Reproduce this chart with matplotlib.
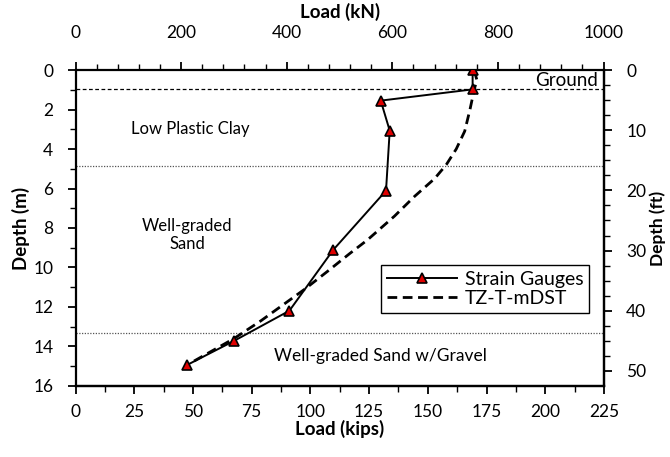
import matplotlib
matplotlib.use("Agg")
import matplotlib.pyplot as plt
from matplotlib.ticker import MultipleLocator, FixedLocator

plt.rcParams['font.family'] = ['Lato', 'DejaVu Sans']

# Strain gauge data (load kN, depth m)
sg_load_kN = [752, 752, 578, 595, 588, 488, 405, 300, 211]
sg_depth_m = [0.0, 0.98, 1.55, 3.07, 6.11, 9.11, 12.19, 13.72, 14.94]

# TZ-T-mDST prediction (load kN, depth m)
tz_load_kN = [755, 760, 755, 747, 737, 721, 702, 680, 642, 604, 553, 519, 477, 434, 351, 300, 211]
tz_depth_m = [0.0, 0.5, 1.0, 2.0, 3.1, 4.0, 4.8, 5.5, 6.4, 7.4, 8.6, 9.3, 10.2, 11.1, 12.7, 13.6, 14.94]

ground_depth = 0.95
layer_bounds = [4.85, 13.3]
layer_labels = ["Low Plastic Clay", "Well-graded\nSand", "Well-graded Sand w/Gravel"]

kips_ticks = [0, 25, 50, 75, 100, 125, 150, 175, 200, 225]
ft_ticks = [0, 10, 20, 30, 40, 50]

KN_PER_KIP = 4.448

fig = plt.figure(figsize=(6.7, 4.57), dpi=100)
ax = fig.add_axes([0.1127, 0.1554, 0.7888, 0.6914])

ax.plot(tz_load_kN, tz_depth_m, color='black', lw=2, linestyle=(0, (3.5, 2)),
        label='TZ-T-mDST', zorder=3)
ax.plot(sg_load_kN, sg_depth_m, color='black', lw=1.4, marker='^', markersize=7,
        markerfacecolor='#e00000', markeredgecolor='black', markeredgewidth=1.2,
        label='Strain Gauges', zorder=4)

ax.axhline(ground_depth, color='black', lw=0.9, linestyle=(0, (3, 2)), zorder=2)
for b in layer_bounds:
    ax.axhline(b, color='#555555', lw=0.9, linestyle=(0, (1, 1.2)), zorder=2)

ax.text(990, 0.55, "Ground", ha='right', va='center', fontsize=13.5)
ax.text(218, 3.0, layer_labels[0], ha='center', va='center', fontsize=12)
ax.text(212, 8.35, layer_labels[1], ha='center', va='center', fontsize=12,
        linespacing=1.2)
ax.text(578, 14.5, layer_labels[2], ha='center', va='center', fontsize=12.5)

ax.set_xlim(0, 225 * KN_PER_KIP)
ax.set_ylim(16, 0)

# top: kN
ax.xaxis.tick_top()
ax.xaxis.set_label_position('top')
ax.xaxis.set_major_locator(FixedLocator([0, 200, 400, 600, 800, 1000]))
ax.xaxis.set_minor_locator(MultipleLocator(40))
ax.set_xlabel("Load (kN)", fontsize=13.5, fontweight='bold', labelpad=5)
ax.yaxis.set_major_locator(MultipleLocator(2))
ax.yaxis.set_minor_locator(MultipleLocator(1))
ax.set_ylabel("Depth (m)", fontsize=13.5, fontweight='bold', labelpad=2)

for s in ax.spines.values():
    s.set_linewidth(1.6)

ax.tick_params(which='major', direction='out', length=6, width=1.3,
               labelsize=12.5, pad=10)
ax.tick_params(which='minor', direction='out', length=4, width=1.0)
ax.tick_params(axis='x', which='major', pad=15)

# bottom: kips
secx = ax.secondary_xaxis('bottom', functions=(lambda x: x / KN_PER_KIP,
                                                lambda x: x * KN_PER_KIP))
secx.xaxis.set_major_locator(FixedLocator(kips_ticks))
secx.xaxis.set_minor_locator(MultipleLocator(12.5))
secx.tick_params(which='major', direction='out', length=6, width=1.3,
                 labelsize=12.5, pad=7)
secx.tick_params(which='minor', direction='out', length=4, width=1.0)
secx.set_xlabel("Load (kips)", fontsize=13.5, fontweight='bold', labelpad=0)
secx.spines['bottom'].set_linewidth(1.6)

# right: ft
secy = ax.secondary_yaxis('right', functions=(lambda y: y / 0.3048,
                                               lambda y: y * 0.3048))
secy.yaxis.set_major_locator(FixedLocator(ft_ticks))
secy.yaxis.set_minor_locator(MultipleLocator(2.5))
secy.tick_params(which='major', direction='out', length=6, width=1.3,
                 labelsize=12.5, pad=10)
secy.tick_params(which='minor', direction='out', length=4, width=1.0)
secy.set_ylabel("Depth (ft)", fontsize=12.5, fontweight='bold', labelpad=2)
secy.spines['right'].set_linewidth(1.6)

handles, labels = ax.get_legend_handles_labels()
leg = ax.legend(handles[::-1], labels[::-1], loc='upper left',
                bbox_to_anchor=(0.578, 0.383), fontsize=14, frameon=True,
                fancybox=False, edgecolor='black', framealpha=1,
                handlelength=3.6, borderpad=0.3, labelspacing=0.12,
                handletextpad=0.4, borderaxespad=0)
leg.get_frame().set_linewidth(1.0)

fig.savefig("out.png", dpi=100)
